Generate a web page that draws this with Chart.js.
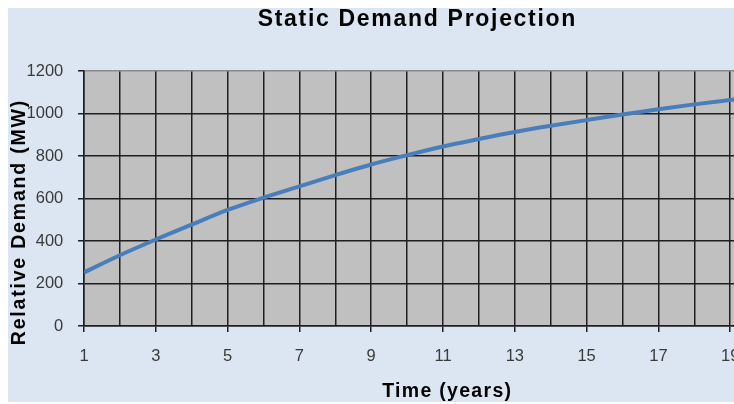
<!DOCTYPE html>
<html>
<head>
<meta charset="utf-8">
<script src="https://cdn.jsdelivr.net/npm/chart.js@4"></script>
<style>
  html, body { margin: 0; padding: 0; background: #ffffff; overflow: hidden; width: 734px; height: 404px; }
  #frame { position: absolute; left: 8px; top: 8px; width: 817px; height: 394px; background: #DCE6F2; }
  canvas { display: block; }
</style>
</head>
<body>
<div id="frame"><canvas id="chart" width="817" height="394"></canvas></div>
<script>
// Text
const chartTitle = 'Static Demand Projection';
const yAxisTitle = 'Relative Demand (MW)';
const xAxisTitle = 'Time (years)';

// Projected demand per year
const years    = [1, 2, 3, 4, 5, 6, 7, 8, 9, 10, 11, 12, 13, 14, 15, 16, 17, 18, 19, 20];
const demandMW = [252, 333, 407, 477, 546, 604, 657, 710, 760, 804, 845, 880, 913, 942, 969, 995, 1020, 1043, 1064, 1084];

// Axis labels
const xTickLabels = [1, 3, 5, 7, 9, 11, 13, 15, 17, 19];
const yTickLabels = [0, 200, 400, 600, 800, 1000, 1200];

const GRID = '#1f1f1f';
const SANS = '"Liberation Sans", Arial, sans-serif';
const tickFont = { family: SANS, size: 16.5 };

// Draws spaced-out bold text centred on x, baseline at y
function spacedText(ctx, text, x, y, size, spacing) {
  ctx.font = 'bold ' + size + 'px ' + SANS;
  if ('letterSpacing' in ctx) {
    ctx.letterSpacing = spacing + 'px';
    ctx.fillText(text, x + spacing / 2, y);
    ctx.letterSpacing = '0px';
  } else {
    ctx.fillText(text, x, y);
  }
}

// Grey plot area behind the grid, plus the chart and axis titles
const decor = {
  id: 'decor',
  beforeDraw(chart) {
    const { ctx, chartArea: a } = chart;
    ctx.save();
    ctx.fillStyle = '#C0C0C0';
    ctx.fillRect(a.left, a.top, a.right - a.left, a.bottom - a.top);
    ctx.restore();
  },
  afterDraw(chart) {
    const { ctx, chartArea: a } = chart;
    ctx.save();
    ctx.fillStyle = '#000000';
    ctx.textAlign = 'center';
    ctx.textBaseline = 'alphabetic';
    spacedText(ctx, chartTitle, chart.width / 2, 17.7, 23, 1.7);
    spacedText(ctx, xAxisTitle, (a.left + a.right) / 2, a.bottom + 70.7, 19.5, 1.3);

    ctx.translate(17, a.bottom - 103);
    ctx.rotate(-Math.PI / 2);
    spacedText(ctx, yAxisTitle, 0, 0, 19.5, 1.8);
    ctx.restore();
  }
};

new Chart(document.getElementById('chart'), {
  type: 'line',
  data: {
    datasets: [{
      data: years.map((y, i) => ({ x: y, y: demandMW[i] })),
      borderColor: '#4A7EBB',
      borderWidth: 4,
      pointRadius: 0,
      cubicInterpolationMode: 'monotone',
      fill: false
    }]
  },
  options: {
    responsive: false,
    animation: false,
    devicePixelRatio: 1,
    layout: { padding: { top: 63, right: 15.8, bottom: 0, left: 0 } },
    plugins: { legend: { display: false }, tooltip: { enabled: false }, title: { display: false } },
    scales: {
      x: {
        type: 'linear',
        min: 1,
        max: 21.2,
        afterFit(s) { s.height = 76; },
        ticks: {
          stepSize: 1,
          autoSkip: false,
          maxRotation: 0,
          padding: 15,
          color: '#3a3a3a',
          font: tickFont,
          callback: v => xTickLabels.includes(v) ? String(v) : ''
        },
        grid: {
          color: GRID,
          lineWidth: 1.5,
          tickLength: 6,
          tickWidth: 1.5,
          tickColor: c => (c.tick && xTickLabels.includes(c.tick.value)) ? GRID : 'rgba(0,0,0,0)'
        },
        border: { color: GRID, width: 1.5 }
      },
      y: {
        min: 0,
        max: 1200,
        afterFit(s) { s.width = 76; },
        afterBuildTicks(s) { s.ticks = yTickLabels.map(v => ({ value: v })); },
        ticks: {
          padding: 14.7,
          color: '#3a3a3a',
          font: tickFont,
          callback: v => String(v)
        },
        grid: {
          color: c => (c.tick && c.tick.value === 1200) ? '#8a8a8a' : GRID,
          lineWidth: 1.5,
          tickLength: 6,
          tickWidth: 1.5,
          tickColor: GRID
        },
        border: { color: GRID, width: 1.5 }
      }
    }
  },
  plugins: [decor]
});
</script>
</body>
</html>
